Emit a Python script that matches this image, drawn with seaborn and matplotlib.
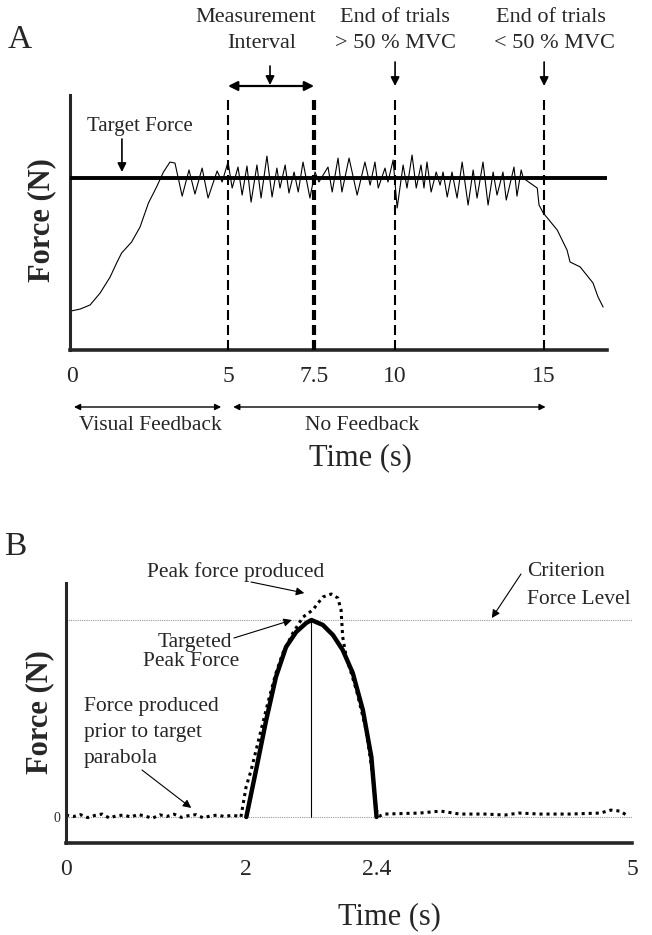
import numpy as np
import pandas as pd
import matplotlib
matplotlib.use("Agg")
import matplotlib.pyplot as plt
import seaborn as sns

# ---------------- Panel A: sustained force trace ----------------
trace_a_time = [0.00, 0.26, 0.58, 0.90, 1.22, 1.43, 1.59, 1.91, 2.18, 2.45,
                2.71, 2.93, 3.14, 3.30, 3.53,
                3.75, 3.94, 4.17, 4.36, 4.65, 4.81, 5.00, 5.12, 5.29, 5.41,
                5.55, 5.67, 5.84, 5.96, 6.13, 6.28, 6.42, 6.51, 6.66, 6.77,
                6.92, 7.04, 7.18, 7.38, 7.53, 7.65, 7.93, 8.06, 8.24, 8.36,
                8.58, 8.83, 9.07, 9.23, 9.38, 9.48, 9.69, 9.78, 9.94, 10.07,
                10.27, 10.40, 10.57, 10.71, 10.87, 10.97, 11.07, 11.21, 11.38, 11.51,
                11.61, 11.75, 11.91, 12.08, 12.25, 12.45, 12.62, 12.75, 12.95, 13.12,
                13.29, 13.42, 13.62, 13.73, 13.99, 14.09, 14.23, 14.30, 14.53, 14.77,
                14.83, 14.97, 15.44, 15.77, 15.87, 16.21, 16.64, 16.81, 16.98]
trace_a_force = [22.8, 23.8, 26.2, 33.1, 42.4, 50.6, 56.4, 62.8, 71.5, 85.5,
                 94.8, 103.5, 109.3, 108.7, 89.5,
                 104.7, 90.7, 105.8, 88.4, 104.1, 97.7, 109.3, 94.2, 106.4, 90.1,
                 107.0, 86.0, 107.6, 88.4, 112.8, 89.0, 105.8, 94.2, 107.6, 91.3,
                 103.5, 91.9, 109.3, 88.4, 103.5, 97.7, 106.4, 91.9, 111.6, 91.9,
                 111.6, 90.1, 109.3, 95.9, 109.3, 94.2, 105.8, 97.7, 110.5, 82.6,
                 107.6, 94.2, 113.4, 94.2, 107.6, 94.2, 109.3, 91.9, 103.5, 95.9,
                 103.5, 89.0, 103.5, 88.4, 109.3, 84.3, 104.7, 88.4, 109.3, 84.3,
                 103.5, 90.1, 103.5, 87.2, 106.4, 89.5, 104.7, 100.0, 97.1, 94.2,
                 84.3, 79.7, 69.8, 58.1, 51.2, 48.3, 39.0, 30.8, 25.0]
target_force_a = 100
event_times_a = [5, 7.5, 10, 15]
measurement_window_a = [5, 7.5]
ticks_a = [0, 5, 7.5, 10, 15]
tick_labels_a = ["0", "5", "7.5", "10", "15"]

# ---------------- Panel B: parabolic target vs produced force ----------------
target_time_b = [2.000, 2.030, 2.061, 2.091, 2.122, 2.153, 2.184, 2.200,
                 2.235, 2.266, 2.296, 2.327, 2.358, 2.384, 2.400]
target_force_b = [0.0, 23.9, 49.2, 71.1, 86.3, 93.9, 98.5, 100.0,
                  97.5, 92.4, 84.8, 73.1, 54.3, 30.5, 0.0]
produced_time_b = [0.00, 0.08, 0.16, 0.24, 0.32, 0.40, 0.48, 0.56, 0.64, 0.72,
                   0.80, 0.88, 0.96, 1.04, 1.12, 1.20, 1.28, 1.36, 1.44, 1.52,
                   1.60, 1.68, 1.76, 1.84, 1.92, 1.94, 1.997, 2.015, 2.040, 2.066,
                   2.091, 2.112, 2.143, 2.174, 2.204, 2.235, 2.261, 2.281, 2.291, 2.296,
                   2.307, 2.338, 2.368, 2.389, 2.399, 2.430, 2.482, 2.838, 3.052, 3.246,
                   3.501, 3.705, 3.848, 4.062, 4.368, 4.674, 4.786, 4.878, 4.960]
produced_force_b = [1.0, 0.2, 1.2, -0.3, 0.8, 1.5, -0.5, 0.6, 1.0, 0.0,
                    1.3, 0.4, -0.6, 1.1, 0.3, 1.4, -0.2, 0.7, 1.2, -0.4,
                    0.5, 1.0, 0.2, 0.9, 0.4, 0.0, 15.2, 23.9, 40.6, 57.9,
                    73.1, 83.2, 93.4, 101.5, 105.1, 111.7, 113.2, 111.2, 105.1, 91.4,
                    81.2, 64.5, 44.2, 20.3, 3.6, 0.5, 1.5, 2.0, 3.0, 1.5,
                    1.5, 1.0, 2.0, 1.5, 1.5, 2.0, 3.5, 3.0, 0.5]
criterion_force_b = 100
peak_time_b = 2.2
ticks_b = [0, 2, 2.4, 5]
tick_labels_b = ["0", "2", "2.4", "5"]

# ---------------- figure setup ----------------
W, H = 652, 935
sns.set_style("white")
plt.rcParams["font.family"] = ["Liberation Serif", "DejaVu Serif"]
plt.rcParams["axes.linewidth"] = 2.2


def fxy(px, py):
    """Figure-fraction position from a pixel position measured from the top-left."""
    return px / W, 1 - py / H


def piecewise(breaks_t, breaks_u):
    bt = np.asarray(breaks_t, float)
    bu = np.asarray(breaks_u, float)
    return (lambda t: np.interp(t, bt, bu)), (lambda u: np.interp(u, bu, bt))


fig = plt.figure(figsize=(W / 100, H / 100), dpi=100)
ax_a = fig.add_axes([70 / W, 1 - 350 / H, 537 / W, 255 / H])
ax_b = fig.add_axes([66 / W, 1 - 843 / H, 566 / W, 260 / H])

for ax in (ax_a, ax_b):
    sns.despine(ax=ax)
    ax.spines["left"].set_linewidth(2.2)
    ax.spines["bottom"].set_linewidth(2.6)

# ---------------- Panel A ----------------
df_a = pd.DataFrame({"time": trace_a_time, "force": trace_a_force})
sns.lineplot(data=df_a, x="time", y="force", ax=ax_a, color="black",
             lw=0.8, estimator=None, sort=False)
ax_a.axhline(target_force_a, color="black", lw=2.8, zorder=3)
for t in event_times_a:
    thick = t == measurement_window_a[1]
    ax_a.axvline(t, ymin=0, ymax=1.0, color="black",
                 lw=3.0 if thick else 1.5,
                 linestyle=(0, (2.4, 1.2)) if thick else (0, (4.8, 2.4)),
                 clip_on=False, zorder=4)

ax_a.set_xscale("function", functions=piecewise(
    [-50, 0, 5, 7.5, 10, 15, 60], [-1488, 72, 228, 314, 395, 544, 1885]))
ax_a.set_xlim(-0.064, 17.11)
ax_a.set_ylim(0, 148.3)
ax_a.set_xticks(ticks_a, tick_labels_a)
ax_a.set_yticks([])
ax_a.tick_params(axis="x", length=0, pad=11.5, labelsize=17)
ax_a.set_xlabel("")
ax_a.set_ylabel("")

fig.text(*fxy(20, 40), "A", fontsize=24, ha="center", va="center")
fig.text(*fxy(42, 220), "Force (N)", fontsize=22, fontweight="bold",
         rotation=90, ha="center", va="center")
fig.text(*fxy(360, 458), "Time (s)", fontsize=22, ha="center", va="center")
fig.text(*fxy(256, 18), "Measurement", fontsize=16, ha="center", va="center")
fig.text(*fxy(262, 43), "Interval", fontsize=16, ha="center", va="center")
fig.text(*fxy(395, 18), "End of trials", fontsize=16, ha="center", va="center")
fig.text(*fxy(395, 43), "> 50 % MVC", fontsize=16, ha="center", va="center")
fig.text(*fxy(551, 18), "End of trials", fontsize=16, ha="center", va="center")
fig.text(*fxy(555, 43), "< 50 % MVC", fontsize=16, ha="center", va="center")
fig.text(*fxy(140, 127), "Target Force", fontsize=15, ha="center", va="center")
fig.text(*fxy(150, 426), "Visual Feedback", fontsize=15.5, ha="center", va="center")
fig.text(*fxy(362, 426), "No Feedback", fontsize=15.5, ha="center", va="center")

mixed = ("data", "figure fraction")
arrow_thin = dict(arrowstyle="<|-|>", color="black", lw=1.0,
                  mutation_scale=9, shrinkA=0, shrinkB=0)
arrow_bold = dict(arrowstyle="<|-|>", color="black", lw=1.6,
                  mutation_scale=14, shrinkA=0, shrinkB=0)
down = dict(arrowstyle="-|>", color="black", lw=1.2,
            mutation_scale=13, shrinkA=0, shrinkB=0)

ax_a.annotate("", xy=(0.064, fxy(0, 407)[1]), xytext=(4.78, fxy(0, 407)[1]),
              xycoords=mixed, textcoords=mixed, arrowprops=arrow_thin,
              annotation_clip=False)
ax_a.annotate("", xy=(5.15, fxy(0, 407)[1]), xytext=(15.05, fxy(0, 407)[1]),
              xycoords=mixed, textcoords=mixed, arrowprops=arrow_thin,
              annotation_clip=False)
ax_a.annotate("", xy=(measurement_window_a[0], fxy(0, 86)[1]),
              xytext=(measurement_window_a[1], fxy(0, 86)[1]),
              xycoords=mixed, textcoords=mixed, arrowprops=arrow_bold,
              annotation_clip=False)
ax_a.annotate("", xy=(6.22, fxy(0, 85)[1]), xytext=(6.22, fxy(0, 66)[1]),
              xycoords=mixed, textcoords=mixed, arrowprops=down,
              annotation_clip=False)
for t in event_times_a[2:]:
    ax_a.annotate("", xy=(t, fxy(0, 86)[1]), xytext=(t, fxy(0, 62)[1]),
                  xycoords=mixed, textcoords=mixed, arrowprops=down,
                  annotation_clip=False)
ax_a.annotate("", xy=(1.60, target_force_a + 3.5), xytext=(1.60, fxy(0, 139)[1]),
              xycoords="data", textcoords=mixed, arrowprops=down,
              annotation_clip=False)

# ---------------- Panel B ----------------
ax_b.plot([0, 5], [criterion_force_b, criterion_force_b], color="0.6",
          lw=0.8, linestyle=(0, (1, 1)))
ax_b.plot([0, 5], [0, 0], color="0.6", lw=0.8, linestyle=(0, (1, 1)))
ax_b.plot([peak_time_b, peak_time_b], [0, criterion_force_b], color="black", lw=0.8)

df_target = pd.DataFrame({"time": target_time_b, "force": target_force_b})
df_prod = pd.DataFrame({"time": produced_time_b, "force": produced_force_b})
sns.lineplot(data=df_target, x="time", y="force", ax=ax_b, color="black",
             lw=3.2, estimator=None, sort=False)
sns.lineplot(data=df_prod, x="time", y="force", ax=ax_b, color="black",
             lw=2.2, linestyle=(0, (1, 1.3)), estimator=None, sort=False)

ax_b.set_xscale("function", functions=piecewise(
    [-50, 0, 2, 2.4, 5, 60], [-4433, 67, 247, 377, 632, 6026]))
ax_b.set_xlim(0, 5)
ax_b.set_ylim(-13.2, 118.8)
ax_b.set_xticks(ticks_b, tick_labels_b)
ax_b.set_yticks([0], ["0"])
ax_b.tick_params(axis="x", length=0, pad=11.5, labelsize=17)
ax_b.tick_params(axis="y", length=0, pad=4, labelsize=10)
ax_b.set_xlabel("")
ax_b.set_ylabel("")

fig.text(*fxy(15, 547), "B", fontsize=24, ha="center", va="center")
fig.text(*fxy(40, 712), "Force (N)", fontsize=22, fontweight="bold",
         rotation=90, ha="center", va="center")
fig.text(*fxy(389, 917), "Time (s)", fontsize=22, ha="center", va="center")
fig.text(*fxy(236, 572), "Peak force produced", fontsize=15.5, ha="center", va="center")
fig.text(*fxy(527, 571), "Criterion", fontsize=15.5, ha="left", va="center")
fig.text(*fxy(527, 600), "Force Level", fontsize=15.5, ha="left", va="center")
fig.text(*fxy(195, 643), "Targeted", fontsize=15.5, ha="center", va="center")
fig.text(*fxy(191, 662), "Peak Force", fontsize=15.5, ha="center", va="center")
fig.text(*fxy(84, 707), "Force produced", fontsize=15.5, ha="left", va="center")
fig.text(*fxy(84, 733), "prior to target", fontsize=15.5, ha="left", va="center")
fig.text(*fxy(84, 758), "parabola", fontsize=15.5, ha="left", va="center")

pointer = dict(arrowstyle="-|>", color="black", lw=0.8,
               mutation_scale=12, shrinkA=0, shrinkB=0)
ax_b.annotate("", xy=(2.178, 113.7), xytext=fxy(251, 582),
              textcoords="figure fraction", arrowprops=pointer, annotation_clip=False)
ax_b.annotate("", xy=(2.14, criterion_force_b), xytext=fxy(234, 638),
              textcoords="figure fraction", arrowprops=pointer, annotation_clip=False)
ax_b.annotate("", xy=(3.573, criterion_force_b + 1), xytext=fxy(521, 574),
              textcoords="figure fraction", arrowprops=pointer, annotation_clip=False)
ax_b.annotate("", xy=(1.389, 4.6), xytext=fxy(142, 770),
              textcoords="figure fraction", arrowprops=pointer, annotation_clip=False)

fig.savefig("out.png", dpi=100)
